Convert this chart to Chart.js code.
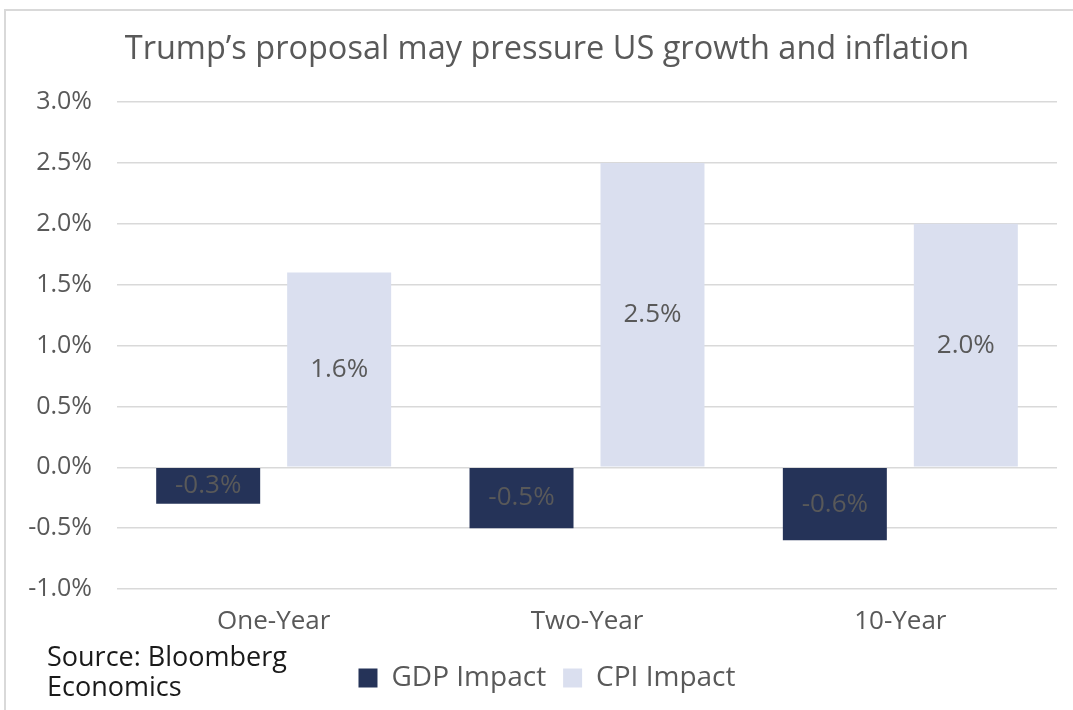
<!DOCTYPE html>
<html>
<head>
<meta charset="utf-8">
<script src="https://cdn.jsdelivr.net/npm/chart.js@4"></script>
<style>
  body { margin: 0; background: #fff; }
  #wrap { position: relative; width: 1073px; height: 710px; }
  #source {
    position: absolute; left: 47px; top: 641px;
    font-family: "Open Sans", sans-serif; font-size: 27px; line-height: 30px; color: #1a1a1a;
  }
</style>
</head>
<body>
<div id="wrap">
  <canvas id="chart" width="1073" height="710"></canvas>
  <div id="source">Source: Bloomberg<br>Economics</div>
</div>
<script>
const categories = ["One-Year", "Two-Year", "10-Year"];
const gdpImpact = [-0.3, -0.5, -0.6];
const cpiImpact = [1.6, 2.5, 2.0];
const titleText = "Trump\u2019s proposal may pressure US growth and inflation";

const fontFamily = "'Open Sans', sans-serif";
const textGray = "#595959";

// light frame along the top and left edge, like the original export
const framePlugin = {
  id: "frame",
  beforeDraw(chart) {
    const ctx = chart.ctx;
    ctx.save();
    ctx.strokeStyle = "#d9d9d9";
    ctx.lineWidth = 2;
    ctx.beginPath();
    ctx.moveTo(5, chart.height);
    ctx.lineTo(5, 10);
    ctx.lineTo(chart.width, 10);
    ctx.stroke();
    ctx.restore();
  },
};

// value labels centered in each bar
const barLabels = {
  id: "barLabels",
  afterDatasetsDraw(chart) {
    const ctx = chart.ctx;
    ctx.save();
    ctx.font = "26px " + fontFamily;
    ctx.fillStyle = textGray;
    ctx.textAlign = "center";
    ctx.textBaseline = "middle";
    chart.data.datasets.forEach((ds, i) => {
      chart.getDatasetMeta(i).data.forEach((bar, j) => {
        const y = (bar.y + bar.base) / 2;
        ctx.fillText(ds.data[j].toFixed(1) + "%", bar.x, y);
      });
    });
    ctx.restore();
  },
};

new Chart(document.getElementById("chart"), {
  type: "bar",
  data: {
    labels: categories,
    datasets: [
      {
        label: "GDP Impact",
        data: gdpImpact,
        backgroundColor: "#253358",
        categoryPercentage: 0.836,
        barPercentage: 0.794,
      },
      {
        label: "CPI Impact",
        data: cpiImpact,
        backgroundColor: "#dadfef",
        categoryPercentage: 0.836,
        barPercentage: 0.794,
      },
    ],
  },
  options: {
    responsive: false,
    animation: false,
    layout: { padding: { top: 10, left: 22, right: 1, bottom: 8 } },
    plugins: {
      title: {
        display: true,
        text: titleText,
        color: textGray,
        font: { family: fontFamily, size: 32.5, weight: "normal" },
        padding: { top: 20, bottom: 33 },
      },
      legend: {
        position: "bottom",
        labels: {
          color: textGray,
          font: { family: fontFamily, size: 28 },
          boxWidth: 19,
          boxHeight: 19,
          padding: 17,
        },
      },
      tooltip: { enabled: false },
    },
    scales: {
      x: {
        grid: { display: false, drawTicks: false },
        border: { display: false },
        ticks: { color: textGray, font: { family: fontFamily, size: 26 }, padding: 17 },
        afterFit: (s) => { s.height = 58; },
      },
      y: {
        min: -1,
        max: 3,
        grid: { color: "#d9d9d9", lineWidth: 1.5, drawTicks: false },
        border: { display: false },
        ticks: {
          stepSize: 0.5,
          color: textGray,
          font: { family: fontFamily, size: 25 },
          padding: 25,
          callback: (v) => v.toFixed(1) + "%",
        },
        afterFit: (s) => { s.width = 95; },
      },
      // empty right-hand spacer so title and legend stay centred like the original
      spacer: {
        type: "linear",
        position: "right",
        grid: { display: false, drawTicks: false },
        border: { display: false },
        ticks: { display: false },
        afterFit: (s) => { s.width = 15; },
      },
    },
  },
  plugins: [framePlugin, barLabels],
});
</script>
</body>
</html>
